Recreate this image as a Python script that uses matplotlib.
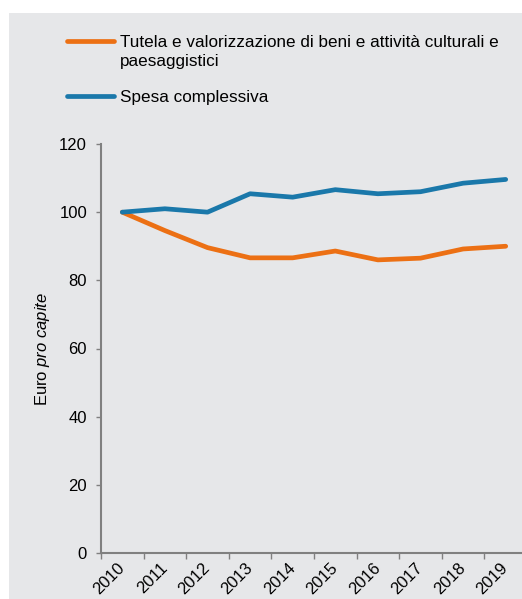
import numpy as np
import matplotlib.pyplot as plt
from matplotlib.lines import Line2D
from matplotlib.patches import Rectangle

plt.rcParams['font.family'] = ['Liberation Sans', 'DejaVu Sans']
plt.rcParams['mathtext.fontset'] = 'custom'
plt.rcParams['mathtext.rm'] = 'Liberation Sans'
plt.rcParams['mathtext.it'] = 'Liberation Sans:italic'

# data (index, 2010 = 100)
years = ['2010', '2011', '2012', '2013', '2014', '2015', '2016', '2017', '2018', '2019']
tutela = [100, 94.6, 89.6, 86.6, 86.6, 88.6, 86.0, 86.5, 89.2, 90.0]
spesa = [100, 101.0, 100.0, 105.4, 104.4, 106.6, 105.4, 106.0, 108.5, 109.6]
labels = ['Tutela e valorizzazione di beni e attività culturali e\npaesaggistici',
          'Spesa complessiva']

orange = '#ec7014'
blue = '#1a78aa'
bg = '#e6e7e9'
axcol = '#808080'
fs = 12

fig = plt.figure(figsize=(5.22, 5.99), dpi=100)
fig.patch.set_facecolor('white')
fig.add_artist(Rectangle((9/522, 0), 1, (599-13)/599, transform=fig.transFigure,
                         facecolor=bg, edgecolor='none', zorder=0))

ax = fig.add_axes([101/522, 1-553/599, 426/522, (553-144)/599])
ax.set_facecolor('none')

x = np.arange(len(years))
ax.plot(x, tutela, color=orange, lw=3.4, solid_capstyle='round', solid_joinstyle='round', clip_on=False)
ax.plot(x, spesa, color=blue, lw=3.4, solid_capstyle='round', solid_joinstyle='round', clip_on=False)

ax.set_xlim(-0.5, len(years)-0.5)
ax.set_ylim(0, 120)
ax.set_yticks(np.arange(0, 121, 20))
ax.tick_params(axis='y', length=3.5, width=1, color=axcol, labelsize=fs, pad=6.5)

ax.set_xticks(x)
ax.set_xticklabels(years, rotation=45, ha='right', va='center', rotation_mode='anchor', fontsize=fs)
ax.set_xticks(np.arange(-0.5, len(years)), minor=True)
ax.tick_params(axis='x', which='major', length=0, pad=9)
ax.tick_params(axis='x', which='minor', length=4, width=1, color=axcol)

for s in ['top', 'right']:
    ax.spines[s].set_visible(False)
for s in ['left', 'bottom']:
    ax.spines[s].set_color(axcol)
    ax.spines[s].set_linewidth(1.5)

ax.set_ylabel(r'Euro $\mathit{pro\ capite}$', fontsize=fs, labelpad=5)

# legend drawn by hand (baseline given for the last text line)
for c, lab, yy, base in [(orange, labels[0], 41, 66.2), (blue, labels[1], 96, 101.7)]:
    fig.add_artist(Line2D([67/522, 114/522], [1-yy/599, 1-yy/599], transform=fig.transFigure,
                          color=c, lw=3.4, solid_capstyle='round'))
    fig.text(120/522, 1-base/599, lab, fontsize=12.3, va='baseline', ha='left', linespacing=1.38)

fig.savefig('out.png', dpi=100)
